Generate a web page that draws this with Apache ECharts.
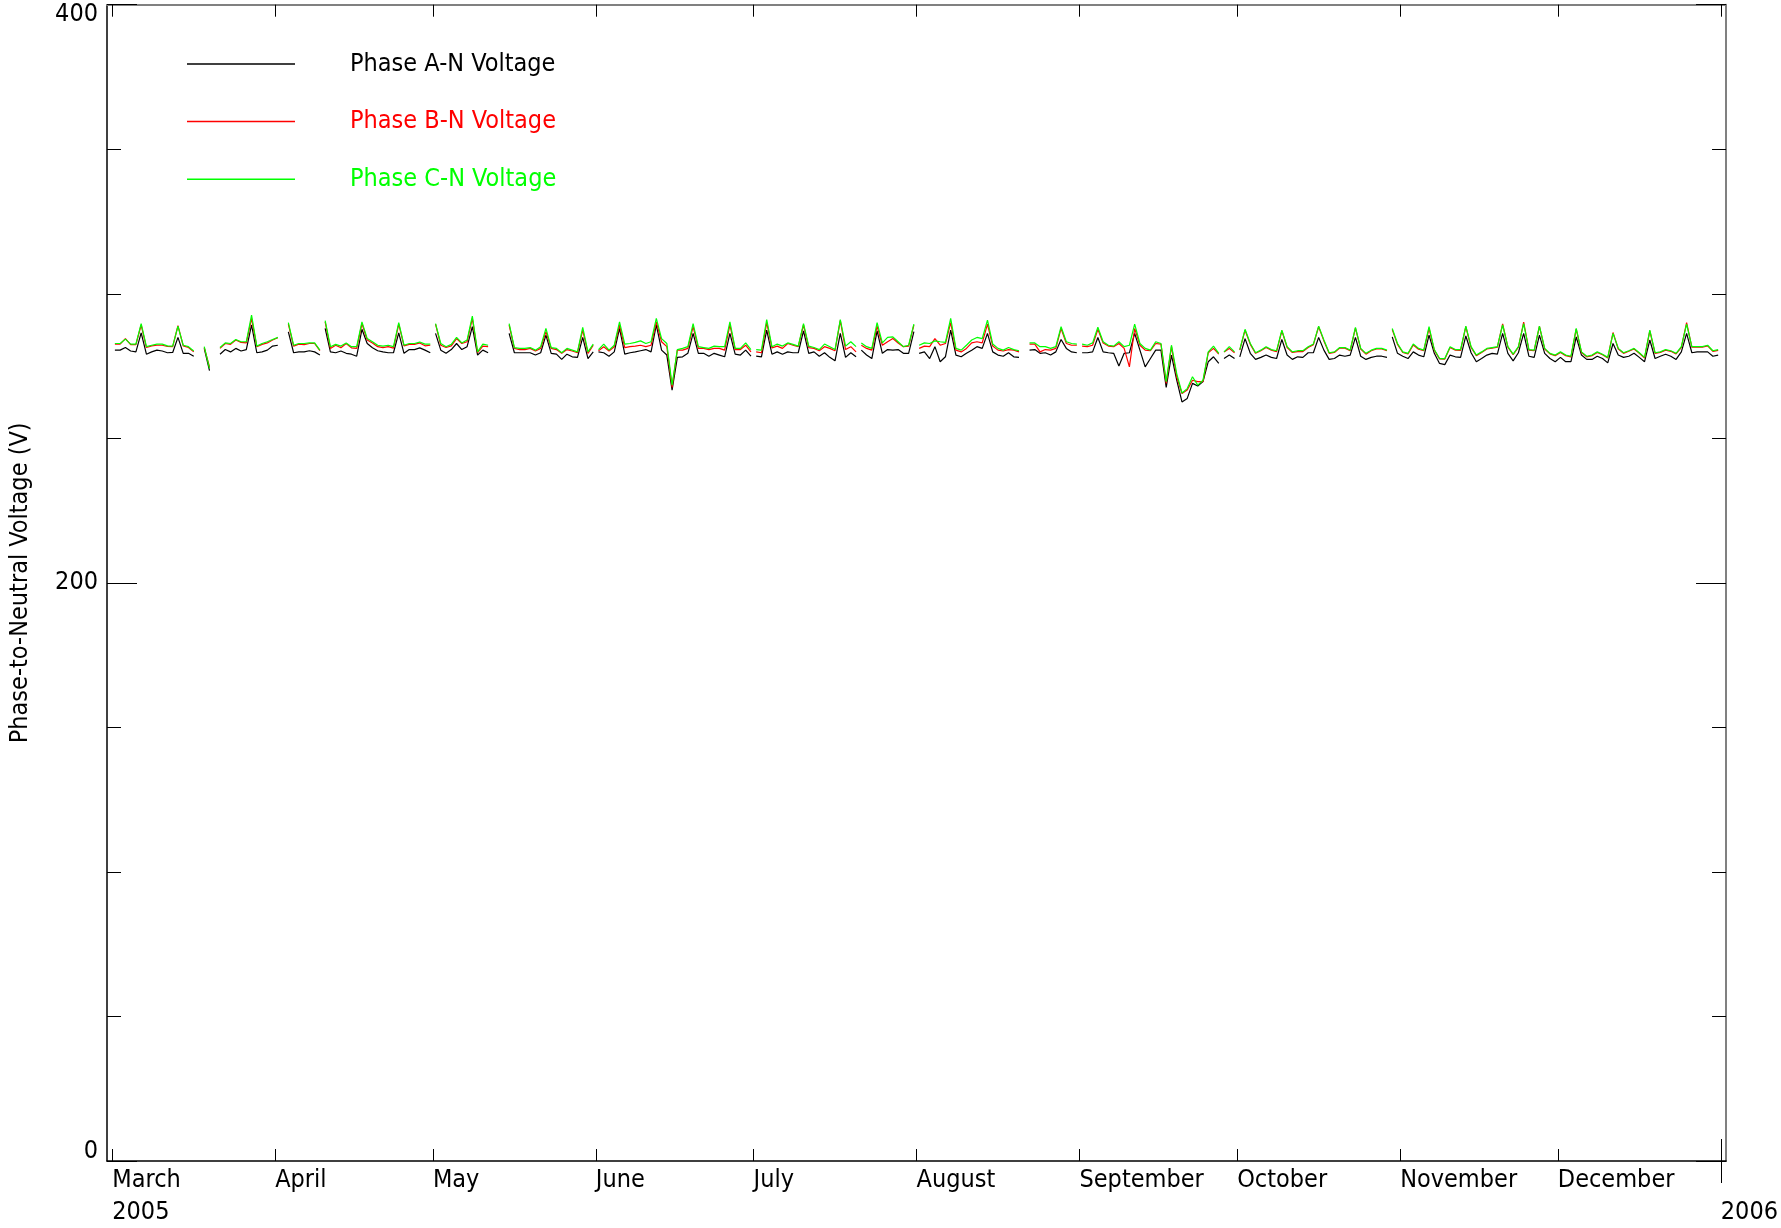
<!DOCTYPE html>
<html>
<head>
<meta charset="utf-8">
<script src="https://cdn.jsdelivr.net/npm/echarts@6/dist/echarts.min.js"></script>
<style>
  html, body { margin: 0; padding: 0; background: #fff; }
  #chart { width: 1781px; height: 1228px; }
</style>
</head>
<body>
<div id="chart"></div>
<script>
// ---- data (days counted from 1 March 2005; each value is a daily reading) ----
const seriesNames = ['Phase A-N Voltage', 'Phase B-N Voltage', 'Phase C-N Voltage'];
const monthTickDays = [0, 31, 61, 92, 122, 153, 184, 214, 245, 275, 306];
const monthLabels = ['March', 'April', 'May', 'June', 'July', 'August', 'September', 'October', 'November', 'December', ''];
const yearLabels = ['2005', '', '', '', '', '', '', '', '', '', '2006'];
const yearTickDays = [306];
const yLabelValues = [0, 200, 400];

// first day of each unbroken stretch of the recorded line
const segStartDay = [0, 17, 20, 33, 40, 61, 75, 92, 122, 142, 153, 174, 184, 211, 214, 243];

const phaseA = [
  [280.5,280.5,281.4,280.2,279.9,286.5,279.1,279.9,280.5,280.2,279.6,279.7,284.9,279.4,279.4,278.4],
  [281.1,273.4],
  [279.1,280.7,279.9,281.1,280.2,280.7,289.2,279.6,279.9,280.5,281.9,282.2],
  [286.8,279.6,279.9,279.9,280.3,279.9,278.8],
  [288.0,279.9,279.6,280.2,279.4,279.1,278.4,287.7,282.8,281.3,280.3,279.9,279.6,279.6,286.5,279.4,280.7,280.7,281.3,280.5,279.6],
  [286.3,280.5,279.4,280.7,282.8,280.7,281.7,288.6,278.8,280.5,279.6],
  [286.3,279.6,279.6,279.6,279.6,278.8,279.6,285.7,279.4,279.1,277.3,279.1,278.2,278.0,284.9,277.6,279.9],
  [279.9,279.6,278.4,279.9,288.0,279.1,279.6,279.9,280.3,280.7,279.9,289.2,280.5,278.8,266.7,278.0,278.2,279.4,286.3,279.4,279.4,278.4,279.4,278.8,278.2,286.3,279.1,278.8,280.5,278.4],
  [278.4,278.2,287.4,279.1,279.9,279.1,279.9,279.6,279.6,287.2,279.4,279.9,278.4,279.6,278.0,276.8,286.3,278.0,279.6,278.2],
  [280.5,278.8,277.6,287.2,279.4,280.7,280.5,280.7,279.4,279.4,286.9],
  [279.4,279.9,277.6,281.7,276.5,278.2,287.4,278.8,278.2,279.4,280.5,281.7,281.1,286.3,279.9,278.8,278.4,279.6,278.2,278.0],
  [280.5,280.7,279.4,279.6,278.8,279.9,284.2,281.1,279.9,279.6],
  [279.6,279.6,279.9,284.9,279.9,279.6,279.4,275.0,279.4,279.6,286.3,280.5,274.7,277.6,280.5,280.5,267.6,278.8,270.1,262.6,263.8,269.0,268.1,269.6,276.5,278.2,275.9],
  [277.6,278.8,277.6],
  [278.2,284.5,279.4,277.3,278.0,278.8,278.0,277.6,284.2,278.8,277.3,278.2,278.0,279.6,279.6,284.9,280.5,277.3,277.6,278.8,278.4,278.8,284.9,278.4,277.3,278.0,278.4,278.4,278.0],
  [285.1,279.4,278.4,277.6,279.9,278.8,278.2,285.7,279.4,275.9,275.5,278.8,278.2,278.0,285.4,279.6,276.5,277.6,278.8,279.4,279.1,286.3,279.4,276.8,279.6,286.3,278.4,278.0,285.7,279.4,277.6,276.5,278.0,276.5,276.5,285.1,278.8,277.3,277.3,278.4,277.6,276.1,282.8,278.8,278.0,278.4,279.4,278.0,276.5,284.0,277.6,278.4,279.1,278.4,277.3,279.9,286.3,279.6,279.9,279.9,279.9,278.4,278.8]
];

const phaseB = [
  [282.6,282.6,284.5,282.4,282.4,289.2,281.4,282.0,282.2,282.2,281.8,281.7,289.0,282.0,281.4,279.9],
  [281.4,274.7],
  [281.1,282.8,282.5,284.0,283.2,283.0,291.5,281.7,282.5,283.0,284.0,284.8],
  [289.5,281.9,282.6,282.4,282.8,282.8,280.3],
  [290.3,281.1,282.2,281.3,282.8,281.3,281.1,289.7,284.0,283.0,281.7,281.4,281.7,281.2,289.5,282.0,282.5,282.5,283.0,282.0,282.2],
  [289.5,282.2,281.4,282.0,284.5,282.8,283.4,291.5,279.6,281.9,281.7],
  [289.2,281.1,280.7,280.7,281.1,280.2,281.1,286.9,281.1,280.7,279.4,280.7,280.2,279.6,287.4,279.4,282.2],
  [280.3,281.7,280.2,281.7,289.2,281.4,281.7,281.9,282.2,281.7,282.2,290.3,283.4,281.7,267.6,280.5,280.5,281.1,288.6,281.1,281.1,280.7,281.1,281.1,280.5,289.2,280.7,280.7,282.2,279.9],
  [279.9,279.6,290.0,281.3,281.9,281.1,282.8,282.2,281.7,289.2,281.4,281.1,280.3,281.7,281.1,280.3,290.7,280.7,281.7,279.9],
  [282.2,281.1,280.5,288.8,282.2,283.4,284.5,283.0,281.7,281.9,289.2],
  [281.1,281.9,281.7,284.5,282.2,282.8,290.0,280.5,279.9,281.1,283.0,283.4,283.0,289.5,281.9,280.5,280.2,280.7,280.5,279.9],
  [282.6,282.6,279.9,280.7,280.5,281.1,288.0,282.8,282.2,282.2],
  [281.9,281.7,282.2,287.7,283.0,281.9,281.7,282.8,281.1,274.7,288.0,282.2,280.5,280.3,282.8,282.6,269.0,281.7,271.3,265.5,266.7,270.1,269.6,269.6,279.6,281.1,279.1],
  [279.9,281.1,279.6],
  [280.5,287.4,282.5,279.4,280.3,281.4,280.5,280.0,287.2,281.4,279.7,280.0,280.0,281.4,282.4,288.6,283.7,279.4,279.7,281.2,281.2,280.3,288.1,280.9,279.1,280.3,280.9,280.9,280.3],
  [287.6,282.5,279.7,279.2,282.3,280.8,280.3,288.0,280.5,277.5,277.4,281.4,280.5,280.4,288.6,281.4,278.6,279.7,280.9,281.2,281.5,289.6,281.5,278.9,281.5,290.2,280.5,280.3,288.7,280.9,279.2,278.6,279.7,278.6,278.2,287.8,279.7,278.2,278.6,279.7,278.9,277.8,286.6,280.9,279.4,280.1,280.9,279.4,277.8,287.2,279.4,279.7,280.5,280.1,279.2,281.5,290.0,281.5,281.5,281.5,282.0,280.1,280.4]
];

const phaseC = [
  [282.8,282.8,284.3,282.6,282.6,289.7,281.7,282.2,282.6,282.6,282.0,281.9,288.8,282.2,281.7,280.2],
  [281.7,274.2],
  [281.4,283.0,282.8,284.2,283.4,283.4,292.6,281.9,282.8,283.4,284.2,284.9],
  [290.0,282.2,282.8,282.8,283.0,283.0,280.5],
  [290.7,281.7,282.5,281.9,283.0,281.7,281.7,290.3,284.5,283.4,282.2,281.9,282.2,281.7,290.0,282.2,282.8,282.8,283.3,282.6,282.6],
  [289.7,282.8,281.7,282.5,284.9,283.0,284.0,292.3,279.9,282.6,282.2],
  [289.7,281.4,281.1,281.1,281.4,280.5,281.7,288.0,281.4,281.1,279.6,281.1,280.5,279.9,288.4,279.9,282.6],
  [280.7,282.6,280.5,282.2,290.3,282.6,282.8,283.2,283.7,282.8,283.4,291.5,284.5,282.8,268.4,280.7,281.1,281.7,289.7,281.7,281.4,281.1,281.9,281.7,281.7,290.3,281.1,281.1,283.0,280.7],
  [280.7,280.5,291.1,281.7,282.6,281.9,283.0,282.5,281.9,289.7,281.9,281.4,280.7,282.6,281.7,280.7,291.1,281.9,283.4,281.7],
  [283.0,281.7,281.1,290.0,283.0,284.9,285.1,283.4,281.7,282.2,289.5],
  [282.2,283.0,282.8,283.7,283.4,283.2,291.5,281.1,280.5,282.2,284.0,284.9,284.5,290.9,282.6,281.1,280.5,281.4,280.7,280.3],
  [283.0,283.0,281.7,281.7,281.1,281.7,288.6,283.4,282.8,282.6],
  [282.6,282.2,283.0,288.4,283.4,282.2,281.9,283.4,281.7,282.2,289.5,282.8,281.1,280.5,283.4,282.8,269.6,282.2,272.4,265.7,267.2,271.3,268.4,270.1,279.9,281.9,279.4],
  [279.9,281.7,279.9],
  [280.7,287.7,282.8,279.6,280.5,281.7,280.7,280.3,287.4,281.7,279.9,280.3,280.3,281.7,282.6,288.8,284.0,279.6,279.9,281.4,281.4,280.5,288.4,281.1,279.4,280.5,281.1,281.1,280.5],
  [288.0,282.8,279.9,279.4,282.6,281.1,280.5,288.6,280.7,277.6,277.6,281.7,280.7,280.7,288.8,281.7,278.8,279.9,281.1,281.4,281.7,289.2,281.7,279.1,281.7,289.7,280.7,280.5,288.8,281.1,279.4,278.8,279.9,278.8,278.4,288.0,279.9,278.4,278.8,279.9,279.1,278.0,286.3,281.1,279.6,280.3,281.1,279.6,278.0,287.4,279.6,279.9,280.7,280.3,279.4,281.7,289.5,281.7,281.7,281.7,282.2,280.3,280.7]
];

const seriesColors = ['#000000', '#ff0000', '#00ff00'];

// ---- build line data: readings at mid-day, a gap after every stretch ----
function buildLine(segments) {
  const out = [];
  segments.forEach((vals, si) => {
    const start = segStartDay[si];
    vals.forEach((v, i) => out.push([start + i + 0.5, v]));
    out.push([start + vals.length + 0.2, null]);
  });
  return out;
}

const FONT = "'DejaVu Sans Condensed', 'Liberation Sans Narrow', sans-serif";
const FS = 25;
const chart = echarts.init(document.getElementById('chart'), null, { renderer: 'canvas' });

const xCommon = { type: 'value', min: -1, max: 307, splitLine: { show: false } };
const yCommon = { type: 'value', min: 0, max: 400, interval: 200, splitLine: { show: false } };

chart.setOption({
  animation: false,
  backgroundColor: '#ffffff',
  textStyle: { fontFamily: FONT },
  grid: { left: 105.3, right: 51, top: 4.7, bottom: 66.3 },
  legend: {
    orient: 'vertical',
    left: 187,
    top: 46.5,
    padding: 0,
    icon: 'rect',
    itemWidth: 108,
    itemHeight: 1.5,
    itemGap: 22.6,
    selectedMode: false,
    textStyle: { fontFamily: FONT, fontSize: FS, lineHeight: 35, padding: [0, 0, 0, 50] },
    data: seriesNames.map((n, i) => ({ name: n, textStyle: { color: seriesColors[i] } }))
  },
  xAxis: [
    Object.assign({}, xCommon, {
      position: 'bottom',
      axisLine: { show: true, onZero: false, lineStyle: { color: '#000', width: 1.5 } },
      axisTick: { show: true, inside: true, length: 12, customValues: monthTickDays, lineStyle: { color: '#000', width: 1 } },
      axisLabel: {
        show: true, customValues: monthTickDays, align: 'left', margin: 3,
        fontFamily: FONT, fontSize: FS, lineHeight: 32, color: '#000',
        formatter: function (v) {
          const i = monthTickDays.indexOf(Math.round(v));
          if (i < 0) return '';
          return monthLabels[i] + (yearLabels[i] ? '\n' + yearLabels[i] : '');
        }
      }
    }),
    Object.assign({}, xCommon, {
      position: 'top',
      axisLine: { show: true, onZero: false, lineStyle: { color: '#808080', width: 2 } },
      axisTick: { show: true, inside: true, length: 12, customValues: monthTickDays, lineStyle: { color: '#000', width: 1 } },
      axisLabel: { show: false }
    }),
    Object.assign({}, xCommon, {
      position: 'bottom',
      axisLine: { show: false },
      axisTick: { show: true, inside: true, length: 22, customValues: yearTickDays, lineStyle: { color: '#000', width: 1 } },
      axisLabel: { show: false }
    }),
    Object.assign({}, xCommon, {
      position: 'top',
      axisLine: { show: false },
      axisTick: { show: true, inside: true, length: 22, customValues: yearTickDays, lineStyle: { color: '#000', width: 1 } },
      axisLabel: { show: false }
    })
  ],
  yAxis: [
    Object.assign({}, yCommon, {
      position: 'left',
      name: 'Phase-to-Neutral Voltage (V)',
      nameLocation: 'middle',
      nameRotate: 90,
      nameGap: 74,
      nameTextStyle: { fontFamily: FONT, fontSize: FS, color: '#000' },
      axisLine: { show: true, onZero: false, lineStyle: { color: '#000', width: 1.5 } },
      axisTick: { show: true, inside: true, length: 30, lineStyle: { color: '#000', width: 1 } },
      minorTick: { show: true, splitNumber: 4, length: 14, lineStyle: { color: '#000', width: 1 } },
      axisLabel: {
        show: true, margin: 9, fontFamily: FONT, fontSize: FS, lineHeight: 20, color: '#000',
        verticalAlignMinLabel: 'bottom', verticalAlignMaxLabel: 'top',
        formatter: function (v) { return yLabelValues.indexOf(v) >= 0 ? String(v) : ''; }
      }
    }),
    Object.assign({}, yCommon, {
      position: 'right',
      axisLine: { show: true, onZero: false, lineStyle: { color: '#808080', width: 2 } },
      axisTick: { show: true, inside: true, length: 30, lineStyle: { color: '#000', width: 1 } },
      minorTick: { show: true, splitNumber: 4, length: 14, lineStyle: { color: '#000', width: 1 } },
      axisLabel: { show: false }
    })
  ],
  series: [phaseA, phaseB, phaseC].map((segs, i) => ({
    name: seriesNames[i],
    type: 'line',
    xAxisIndex: 0,
    yAxisIndex: 0,
    data: buildLine(segs),
    showSymbol: false,
    symbol: 'none',
    connectNulls: false,
    color: seriesColors[i],
    lineStyle: { color: seriesColors[i], width: 1.2 },
    emphasis: { disabled: true },
    z: 2 + i
  }))
});
</script>
</body>
</html>
